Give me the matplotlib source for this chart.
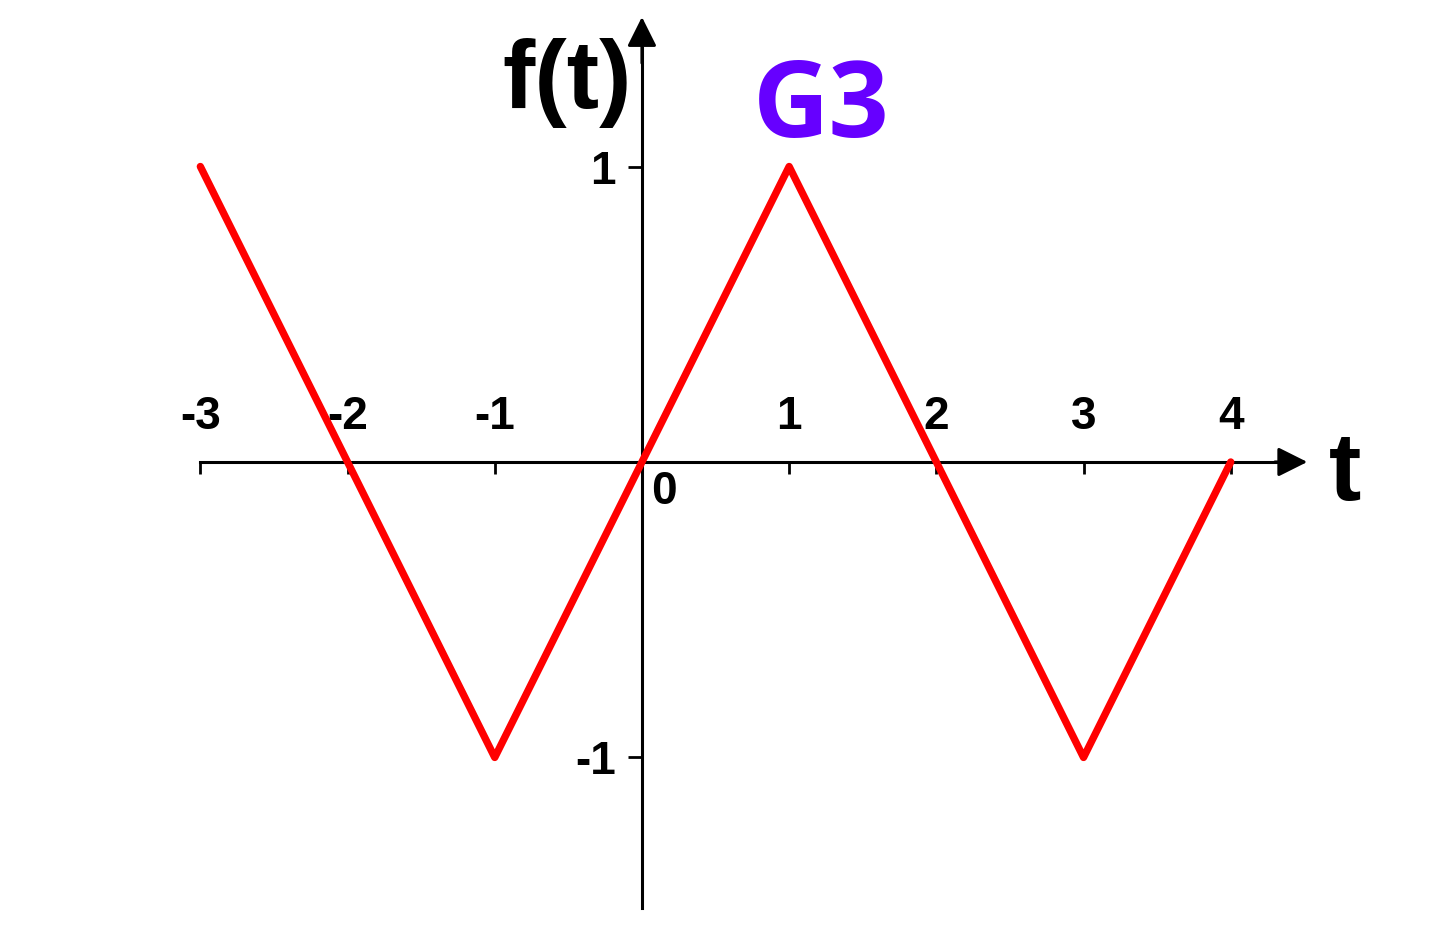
import matplotlib.pyplot as plt

# ----------------------
# Dados do grafico
# ----------------------
t_pts = [-3, -1, 1, 3, 4]        # vertices da onda triangular
f_pts = [1, -1, 1, -1, 0]
xticks = [-3, -2, -1, 1, 2, 3, 4]
yticks = [-1, 1]

fig = plt.figure(figsize=(14.38, 9.51), dpi=100)
ax = fig.add_axes([0, 0, 1, 1])
ax.set_xlim(-4.361, 5.408)
ax.set_ylim(-1.655, 1.5635)

# eixos centrados na origem
ax.spines['right'].set_visible(False)
ax.spines['left'].set_position(('data', 0))
ax.spines['bottom'].set_position(('data', 0))
ax.spines['top'].set_position(('data', 0))
ax.spines['top'].set_visible(False)
ax.spines['bottom'].set_bounds(-3, 4.4)
ax.spines['left'].set_bounds(-1.509, 1.4)
ax.spines['left'].set_linewidth(2.2)
ax.spines['bottom'].set_linewidth(2.2)

ax.set_xticks(xticks)
ax.set_xticklabels([str(v) for v in xticks])
ax.set_yticks(yticks)
ax.set_yticklabels([str(v) for v in yticks])
ax.tick_params(axis='x', direction='out', length=8.6, width=2, bottom=True, top=False,
               labelbottom=False, labeltop=True, pad=7.6)
ax.tick_params(axis='y', direction='out', length=10, width=2, pad=9)
for lab in ax.get_xticklabels() + ax.get_yticklabels():
    lab.set_fontfamily('Liberation Sans')
    lab.set_fontweight('bold')
    lab.set_fontsize(33)

# setas dos eixos
arrow = dict(arrowstyle='-|>,head_length=0.4,head_width=0.2', color='black', lw=2.2,
             mutation_scale=45, shrinkA=0, shrinkB=0)
ax.annotate('', xy=(4.52, 0), xytext=(4.3, 0), arrowprops=arrow)
ax.annotate('', xy=(0, 1.506), xytext=(0, 1.35), arrowprops=arrow)

# sinal
ax.plot(t_pts, f_pts, color='#ff0000', lw=5.3, zorder=5, solid_capstyle='round')

# textos
ax.text(0.15, -0.1, '0', fontfamily='Liberation Sans', fontweight='bold', fontsize=33,
        ha='center', va='center')
ax.text(-0.068, 1.198, 'f(t)', fontfamily='Liberation Sans', fontweight='bold', fontsize=70,
        ha='right', va='baseline')
ax.text(4.67, -0.129, 't', fontfamily='Liberation Sans', fontweight='bold', fontsize=70,
        ha='left', va='baseline')
ax.text(0.755, 1.10, 'G3', fontfamily='Open Sans', fontweight='bold', fontsize=76,
        color='#6600ff', ha='left', va='baseline')

plt.savefig('out.png', dpi=100)
